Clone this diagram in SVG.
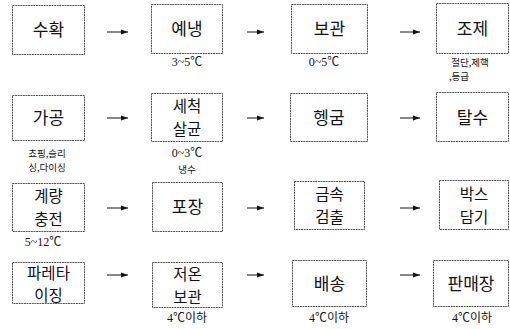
<svg xmlns="http://www.w3.org/2000/svg" width="510" height="329" viewBox="0 0 510 329">
<style>
.box{fill:#fff;stroke:#555;stroke-width:1;stroke-dasharray:2 0.6}
.t{font-family:"Noto Sans CJK KR","Liberation Serif",serif;font-size:17px;fill:#111;text-anchor:middle}
.t2{font-family:"Noto Sans CJK KR","Liberation Serif",serif;font-size:15.5px;fill:#111;text-anchor:middle}
.s{font-family:"Liberation Serif","Noto Sans CJK KR",serif;font-size:12px;fill:#111;text-anchor:middle}
.k{font-family:"Noto Sans CJK KR",serif;font-size:9.5px;fill:#111;text-anchor:middle}
.c{stroke:#111;stroke-width:1;fill:none;marker-end:url(#ah)}
</style>
<defs>
<marker id="ah" markerWidth="8" markerHeight="6" refX="7" refY="3" orient="auto" markerUnits="userSpaceOnUse">
<path d="M0,0.5 L7,3 L0,5.5 Z" fill="#111"/>
</marker>
</defs>
<rect width="510" height="329" fill="#fff"/>
<g id="n1"><rect class="box" x="12.5" y="5.5" width="72" height="49"/><text class="t" x="48.5" y="36">수확</text></g>
<g id="n2"><rect class="box" x="151.5" y="4.5" width="71" height="49"/><text class="t" x="187" y="35">예냉</text><text class="s" x="187" y="66">3~5℃</text></g>
<g id="n3"><rect class="box" x="291.5" y="4.5" width="76" height="49"/><text class="t" x="329.5" y="35">보관</text><text class="s" x="324" y="66">0~5℃</text></g>
<g id="n4"><rect class="box" x="436.5" y="3.5" width="72" height="50"/><text class="t" x="472.5" y="35">조제</text><text class="k" y="66"><tspan x="470">절단,제핵</tspan><tspan x="459" dy="14">,등급</tspan></text></g>
<g id="n5"><rect class="box" x="12.5" y="95.5" width="72" height="45"/><text class="t" x="48.5" y="124">가공</text><text class="k" y="157"><tspan x="47">쵸핑,슬리</tspan><tspan x="47" dy="14">싱,다이싱</tspan></text></g>
<g id="n6"><rect class="box" x="151.5" y="93.5" width="71" height="48"/><text class="t2" y="112"><tspan x="187">세척</tspan><tspan x="187" dy="22.5">살균</tspan></text><text class="s" x="187" y="157">0~3℃</text><text class="k" x="187" y="173">냉수</text></g>
<g id="n7"><rect class="box" x="290.5" y="93.5" width="77" height="48"/><text class="t" x="329" y="124">헹굼</text></g>
<g id="n8"><rect class="box" x="436.5" y="92.5" width="72" height="49"/><text class="t" x="472.5" y="124">탈수</text></g>
<g id="n9"><rect class="box" x="12.5" y="183.5" width="72" height="48"/><text class="t2" y="202"><tspan x="48.5">계량</tspan><tspan x="48.5" dy="22.5">충전</tspan></text><text class="s" x="43" y="246">5~12℃</text></g>
<g id="n10"><rect class="box" x="152.5" y="182.5" width="70" height="49"/><text class="t" x="187.5" y="213">포장</text></g>
<g id="n11"><rect class="box" x="294.5" y="181.5" width="70" height="48"/><text class="t2" y="200"><tspan x="329.5">금속</tspan><tspan x="329.5" dy="22.5">검출</tspan></text></g>
<g id="n12"><rect class="box" x="439.5" y="180.5" width="69" height="49"/><text class="t2" y="200"><tspan x="474">박스</tspan><tspan x="474" dy="22.5">담기</tspan></text></g>
<g id="n13"><rect class="box" x="12.5" y="262.5" width="72" height="41"/><text class="t2" y="278.5"><tspan x="48.5">파레타</tspan><tspan x="48.5" dy="22.5">이징</tspan></text></g>
<g id="n14"><rect class="box" x="152.5" y="262.5" width="70" height="45"/><text class="t2" y="280"><tspan x="187.5">저온</tspan><tspan x="187.5" dy="22.5">보관</tspan></text><text class="s" x="187" y="322">4℃이하</text></g>
<g id="n15"><rect class="box" x="292.5" y="260.5" width="74" height="46"/><text class="t" x="329.5" y="290">배송</text><text class="s" x="329" y="322">4℃이하</text></g>
<g id="n16"><rect class="box" x="433.5" y="260.5" width="75" height="46"/><text class="t" x="471" y="290">판매장</text><text class="s" x="472" y="322">4℃이하</text></g>
<g id="connectors">
<line class="c" x1="107" y1="32" x2="128" y2="32"/>
<line class="c" x1="247" y1="32" x2="264" y2="32"/>
<line class="c" x1="400" y1="32" x2="420" y2="32"/>
<line class="c" x1="107" y1="118" x2="128" y2="118"/>
<line class="c" x1="247" y1="118" x2="264" y2="118"/>
<line class="c" x1="400" y1="118" x2="420" y2="118"/>
<line class="c" x1="107" y1="208" x2="128" y2="208"/>
<line class="c" x1="247" y1="208" x2="264" y2="208"/>
<line class="c" x1="400" y1="208" x2="420" y2="208"/>
<line class="c" x1="107" y1="275" x2="128" y2="275"/>
<line class="c" x1="247" y1="275" x2="264" y2="275"/>
<line class="c" x1="400" y1="275" x2="420" y2="275"/>
</g>
</svg>
